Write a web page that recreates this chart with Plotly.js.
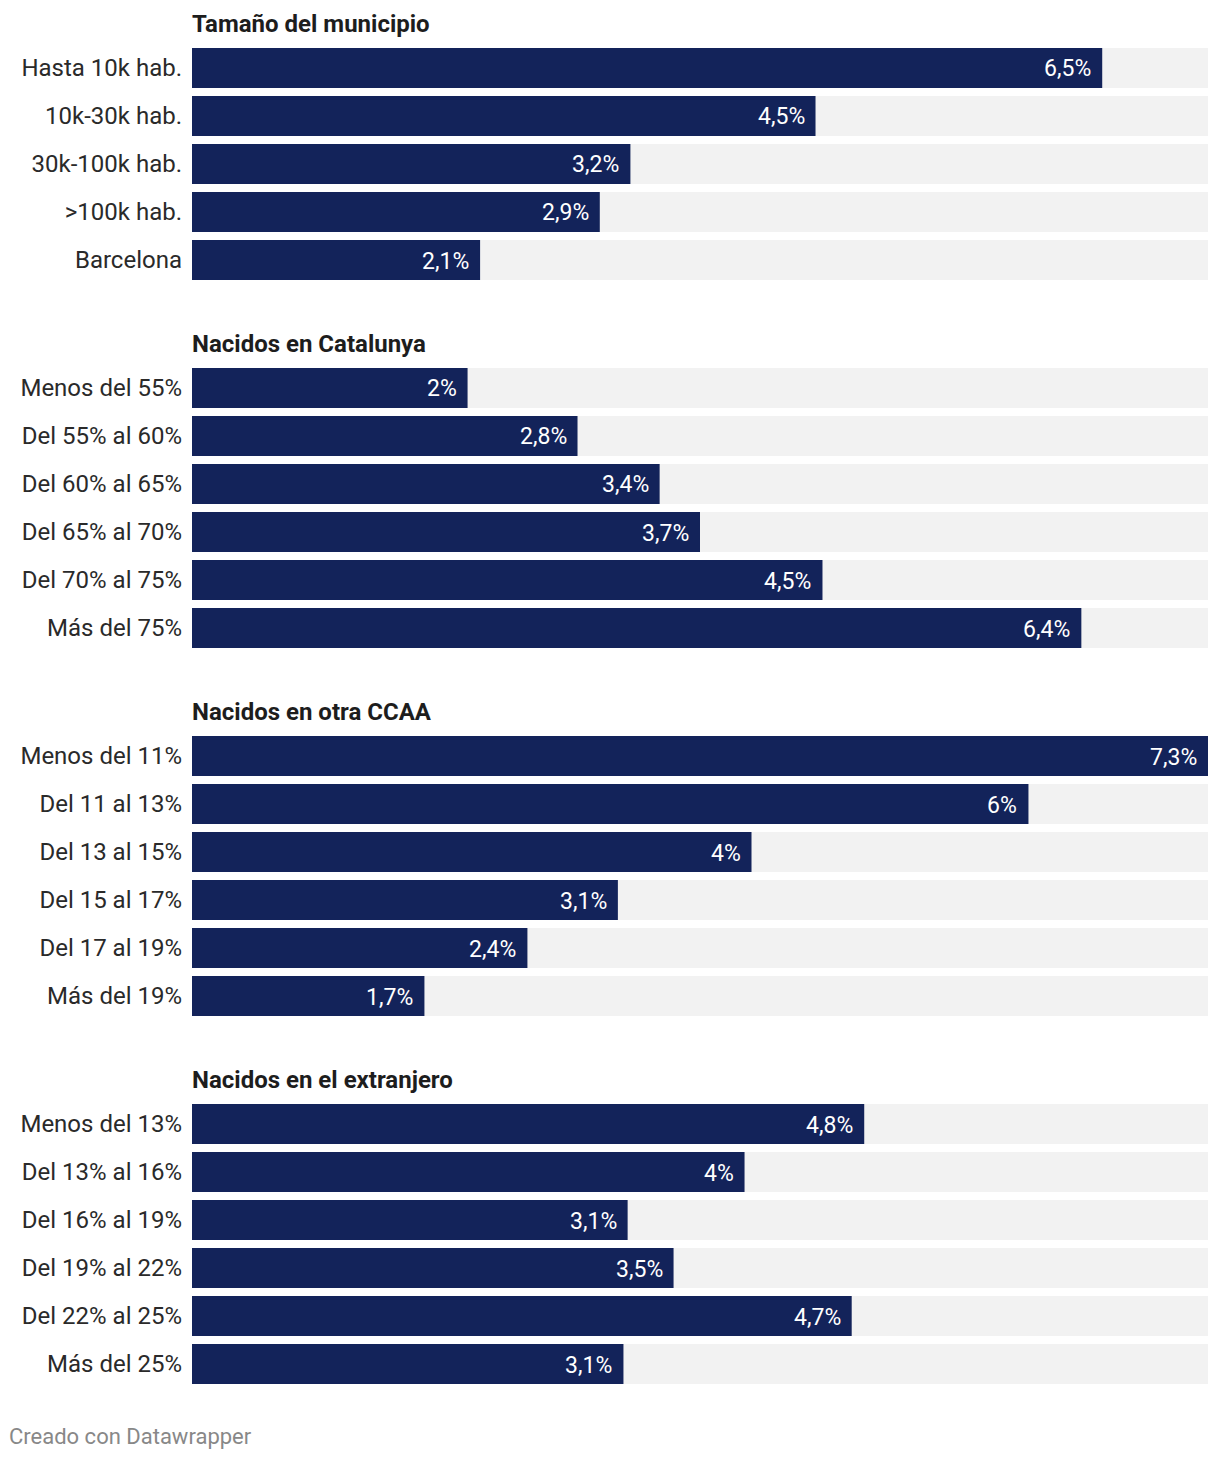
<!DOCTYPE html>
<html>
<head>
<meta charset="utf-8">
<script src="https://cdn.plot.ly/plotly-3.0.1.min.js"></script>
<style>html,body{margin:0;padding:0;background:#fff;}#chart{width:1220px;height:1460px;}</style>
</head>
<body>
<div id="chart"></div>
<script>
// ---- data ----
const groupTitles = ["Tamaño del municipio", "Nacidos en Catalunya", "Nacidos en otra CCAA", "Nacidos en el extranjero"];

const catsMunicipio = ["Hasta 10k hab.", "10k-30k hab.", "30k-100k hab.", ">100k hab.", "Barcelona"];
const valsMunicipio = [6.54, 4.48, 3.15, 2.93, 2.07];

const catsCatalunya = ["Menos del 55%", "Del 55% al 60%", "Del 60% al 65%", "Del 65% al 70%", "Del 70% al 75%", "Más del 75%"];
const valsCatalunya = [1.98, 2.77, 3.36, 3.65, 4.53, 6.39];

const catsOtraCCAA = ["Menos del 11%", "Del 11 al 13%", "Del 13 al 15%", "Del 15 al 17%", "Del 17 al 19%", "Más del 19%"];
const valsOtraCCAA = [7.30, 6.01, 4.02, 3.06, 2.41, 1.67];

const catsExtranjero = ["Menos del 13%", "Del 13% al 16%", "Del 16% al 19%", "Del 19% al 22%", "Del 22% al 25%", "Más del 25%"];
const valsExtranjero = [4.83, 3.97, 3.13, 3.46, 4.74, 3.10];

const footerText = "Creado con Datawrapper";

// ---- build ----
const groups = [
  {cats: catsMunicipio, vals: valsMunicipio},
  {cats: catsCatalunya, vals: valsCatalunya},
  {cats: catsOtraCCAA, vals: valsOtraCCAA},
  {cats: catsExtranjero, vals: valsExtranjero}
];
const W = 1220, H = 1460;
const pitch = 48;
const firstRowTop = [44, 364, 732, 1100]; // pixel tops of each group's first row slot
const navy = "#13235a", grey = "#f2f2f2";
const maxVal = Math.max(...groups.flatMap(g => g.vals));
const FONT = "Roboto, 'Open Sans', sans-serif";

function fmt(v) {
  const r = Math.round(v * 10 + 1e-9) / 10;
  let s = (Math.abs(r - Math.round(r)) < 1e-9) ? String(Math.round(r)) : r.toFixed(1);
  return s.replace(".", ",") + "%";
}

const data = [], annotations = [];
const layout = {
  width: W, height: H,
  margin: {l: 192, r: 12, t: 0, b: 0},
  paper_bgcolor: "#fff", plot_bgcolor: "#fff",
  barmode: "overlay", bargap: 1/6,
  showlegend: false,
  font: {family: FONT, size: 24, color: "#333"},
  annotations: annotations
};

groups.forEach((g, i) => {
  const n = g.cats.length;
  const topPx = firstRowTop[i], botPx = topPx + n * pitch;
  const ax = i === 0 ? "" : String(i + 1);
  const xname = "xaxis" + ax, yname = "yaxis" + ax;
  layout[xname] = {
    domain: [0, 1], range: [0, maxVal], fixedrange: true,
    showgrid: false, zeroline: false, showticklabels: false, ticks: "",
    anchor: "y" + ax
  };
  layout[yname] = {
    domain: [1 - botPx / H, 1 - topPx / H],
    type: "category", autorange: "reversed",
    showgrid: false, zeroline: false, ticks: "", showline: false,
    ticklabelstandoff: 9,
    tickfont: {family: FONT, size: 24, color: "#2a2a2a"},
    anchor: "x" + ax, fixedrange: true
  };
  data.push({
    type: "bar", orientation: "h",
    y: g.cats, x: g.cats.map(() => maxVal),
    xaxis: "x" + ax, yaxis: "y" + ax,
    marker: {color: grey}, hoverinfo: "skip"
  });
  data.push({
    type: "bar", orientation: "h",
    y: g.cats, x: g.vals,
    xaxis: "x" + ax, yaxis: "y" + ax,
    marker: {color: navy}, hoverinfo: "skip"
  });
  g.cats.forEach((c, j) => {
    annotations.push({
      xref: "x" + ax, yref: "y" + ax, x: g.vals[j], y: c,
      text: fmt(g.vals[j]), showarrow: false,
      xanchor: "right", yanchor: "middle", xshift: -9, yshift: -1,
      font: {family: FONT, size: 23, color: "#fff"}
    });
  });
  annotations.push({
    xref: "paper", yref: "paper", x: 0, y: 1 - (topPx - 20) / H,
    text: "<b>" + groupTitles[i] + "</b>", showarrow: false,
    xanchor: "left", yanchor: "middle", xshift: -2,
    font: {family: FONT, size: 24, color: "#1d1d1d"}
  });
});

annotations.push({
  xref: "paper", yref: "paper", x: 0, y: 1 - 1436 / H,
  text: footerText, showarrow: false,
  xanchor: "left", yanchor: "middle", xshift: -185,
  font: {family: FONT, size: 22, color: "#888"}
});

Plotly.newPlot("chart", data, layout, {displayModeBar: false, staticPlot: true});
</script>
</body>
</html>
